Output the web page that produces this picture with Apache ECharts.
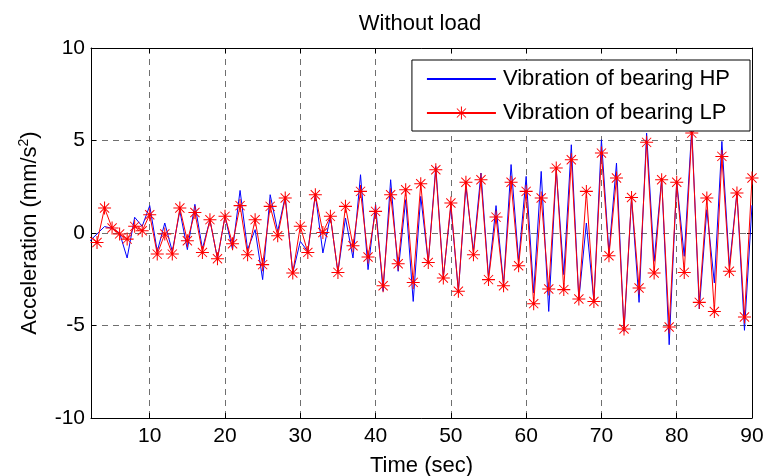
<!DOCTYPE html>
<html>
<head>
<meta charset="utf-8">
<script src="https://cdn.jsdelivr.net/npm/echarts@6/dist/echarts.min.js"></script>
<style>html,body{margin:0;padding:0;background:#fff;}#c{width:763px;height:476px;}</style>
</head>
<body>
<div id="c"></div>
<script>
var time = [2,3,4,5,6,7,8,9,10,11,12,13,14,15,16,17,18,19,20,21,22,23,24,25,26,27,28,29,30,31,32,33,34,35,36,37,38,39,40,41,42,43,44,45,46,47,48,49,50,51,52,53,54,55,56,57,58,59,60,61,62,63,64,65,66,67,68,69,70,71,72,73,74,75,76,77,78,79,80,81,82,83,84,85,86,87,88,89,90];
var hp = [-0.45,-0.05,0.35,0.25,0.0,-1.35,0.85,0.36,1.48,-1.0,0.54,-1.0,1.2,-0.9,1.55,-0.85,0.7,-1.39,0.9,-0.9,2.3,-0.9,0.18,-2.52,2.07,0.09,1.98,-2.16,-0.45,-1.0,2.1,-1.08,0.9,-2.13,0.81,-1.35,3.15,-1.98,1.53,-3.15,2.88,-2.07,1.8,-3.7,1.98,-1.59,3.6,-2.4,1.44,-3.15,2.52,-0.99,3.24,-2.4,1.48,-2.8,3.7,-1.53,3.06,-3.24,3.33,-4.24,3.4,-2.25,4.77,-3.6,0.54,-3.7,5.04,-1.08,3.78,-5.32,1.9,-3.75,5.4,-1.53,2.97,-6.04,2.8,-1.26,5.68,-4.1,1.26,-2.7,4.95,-1.8,2.2,-5.26,1.5];
var lp = [-0.2,-0.51,1.35,0.27,-0.05,-0.33,0.36,0.12,0.99,-1.14,-0.05,-1.14,1.35,-0.42,1.11,-1.05,0.72,-1.39,0.9,-0.58,1.48,-1.17,0.72,-1.71,1.44,-0.15,1.89,-2.16,0.36,-1.05,2.07,0.03,0.9,-2.13,1.44,-0.69,2.25,-1.3,1.17,-2.85,2.07,-1.66,2.34,-2.67,2.66,-1.59,3.42,-2.43,1.62,-3.15,2.74,-1.17,2.88,-2.52,0.86,-2.85,2.74,-1.77,2.25,-3.82,1.89,-3.03,3.51,-3.06,3.96,-3.57,2.25,-3.7,4.32,-1.23,2.97,-5.19,1.92,-2.97,4.9,-2.16,2.88,-5.08,2.74,-2.13,5.4,-3.75,1.89,-4.24,4.14,-2.07,2.16,-4.54,2.97];
var xTicks = [10,20,30,40,50,60,70,80,90];
var yTicks = [-10,-5,0,5,10];
var seriesNames = ['Vibration of bearing HP','Vibration of bearing LP'];

var star = 'path://M0 46L100 46L100 54L0 54Z M46 0L54 0L54 100L46 100Z M12 17L17 12L88 83L83 88Z M83 12L88 17L17 88L12 83Z';
function pairs(v){ return time.map(function(t,i){ return [t, v[i]]; }); }
var FONT = 'Liberation Sans, Arial, sans-serif';
var chart = echarts.init(document.getElementById('c'));
var lineBlack = {show:true, onZero:false, lineStyle:{color:'#000', width:1}};
var tickBlack = {show:true, inside:true, length:5, lineStyle:{color:'#000'}};
var gridDash = {show:true, lineStyle:{color:'#6f6f6f', type:[6,5], width:1}};
chart.setOption({
  animation:false,
  backgroundColor:'#fff',
  title:{text:'Without load', left:415, textAlign:'center', top:8,
    textStyle:{fontFamily:FONT, fontSize:22, fontWeight:'normal', color:'#000'}},
  legend:{
    data:[{name:seriesNames[0], itemStyle:{color:'rgba(0,0,0,0)', borderWidth:0, opacity:0}}, {name:seriesNames[1]}],
    orient:'vertical', right:13, top:60,
    padding:[8,20,7,14], itemGap:12, itemWidth:69, itemHeight:16,
    borderColor:'#000', borderWidth:1, backgroundColor:'#fff',
    textStyle:{fontFamily:FONT, fontSize:22, color:'#000', padding:[0,0,0,2]}
  },
  grid:{left:91, right:11, top:48, bottom:58, containLabel:false, outerBoundsMode:'none'},
  xAxis:[{
    type:'value', min:2.2, max:90,
    name:'Time (sec)', nameLocation:'middle', nameGap:37,
    nameTextStyle:{fontFamily:FONT, fontSize:22, color:'#000'},
    axisLine:lineBlack,
    axisTick:{show:true, inside:true, length:5, lineStyle:{color:'#000'}, customValues:xTicks},
    axisLabel:{fontFamily:FONT, fontSize:21, color:'#000', margin:8, customValues:xTicks},
    splitLine:gridDash
  },{
    type:'value', min:2.2, max:90, position:'top',
    axisLine:lineBlack,
    axisTick:{show:true, inside:true, length:5, lineStyle:{color:'#000'}, customValues:xTicks},
    axisLabel:{show:false, customValues:xTicks},
    splitLine:{show:false}
  }],
  yAxis:[{
    type:'value', min:-10, max:10, interval:5,
    name:'Acceleration (mm/s{sup|2})', nameLocation:'middle', nameGap:48,
    nameTextStyle:{fontFamily:FONT, fontSize:22, color:'#000', lineHeight:26,
      rich:{sup:{fontFamily:FONT, fontSize:14, color:'#000', verticalAlign:'top', lineHeight:26}}},
    axisLine:lineBlack,
    axisTick:tickBlack,
    axisLabel:{fontFamily:FONT, fontSize:21, color:'#000', margin:6},
    splitLine:gridDash
  },{
    type:'value', min:-10, max:10, interval:5, position:'right',
    axisLine:lineBlack,
    axisTick:tickBlack,
    axisLabel:{show:false},
    splitLine:{show:false}
  }],
  series:[{
    name:seriesNames[0], type:'line', data:pairs(hp), xAxisIndex:0, yAxisIndex:0,
    showSymbol:false, symbol:'none', clip:true,
    lineStyle:{color:'#0000ff', width:1}, itemStyle:{color:'#0000ff'}, z:2
  },{
    name:seriesNames[1], type:'line', data:pairs(lp), xAxisIndex:0, yAxisIndex:0,
    symbol:star, symbolSize:13, clip:true,
    lineStyle:{color:'#ff0000', width:1}, itemStyle:{color:'#ff0000'}, z:3
  }]
});
</script>
</body>
</html>
